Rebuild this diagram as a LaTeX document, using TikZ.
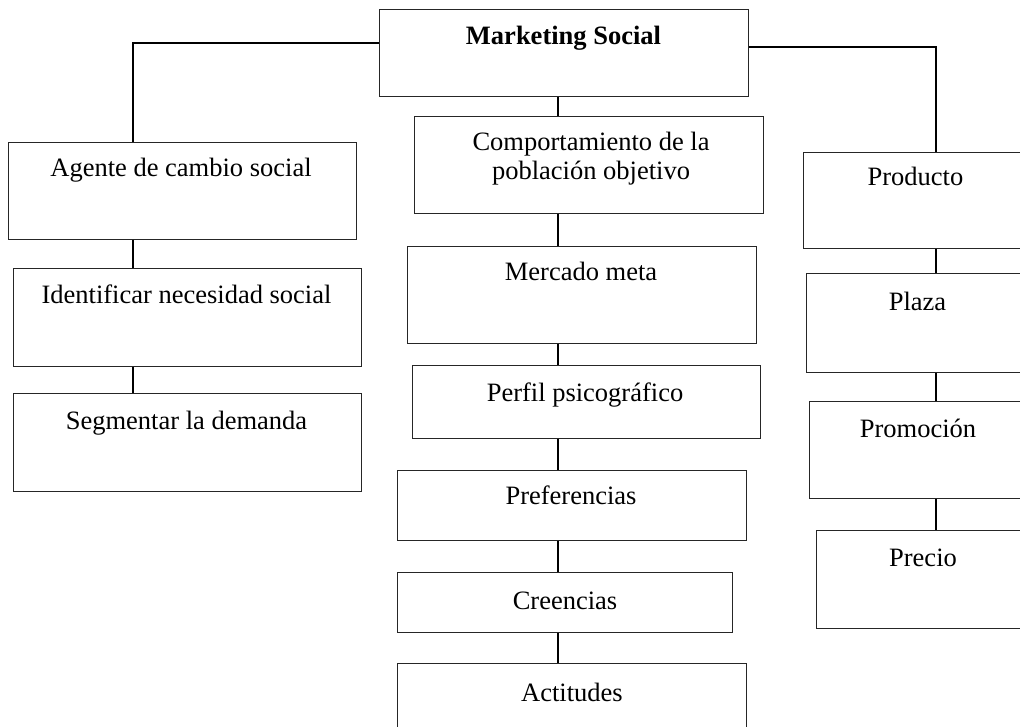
\documentclass[tikz,border=0pt]{standalone}
\usepackage{fontspec}
\setmainfont{Liberation Serif}
\begin{document}
\begin{tikzpicture}[x=1pt,y=-1pt,
  box/.style={draw=black!85, line width=0.9pt, inner sep=0pt, anchor=north west},
  lbl/.style={inner sep=0pt, anchor=base, align=center, font=\fontsize{26.5}{29}\selectfont},
  conn/.style={draw=black, line width=1.6pt}]
\useasboundingbox (0,0) rectangle (1020,727);
\clip (0,0) rectangle (1020,727);

% top box
\node[box, minimum width=369pt, minimum height=87pt] (mkt) at (379,9) {};
\node[lbl, font=\fontsize{26.5}{29}\selectfont\bfseries] (mktT) at (563.5,45) {Marketing Social};

% left column
\node[box, minimum width=348pt, minimum height=97pt] (agente) at (8,142) {};
\node[lbl] (agenteT) at (181,177) {Agente de cambio social};
\node[box, minimum width=348pt, minimum height=98pt] (ident) at (13,268) {};
\node[lbl] (identT) at (186.5,304) {Identificar necesidad social};
\node[box, minimum width=348pt, minimum height=98pt] (segm) at (13,393) {};
\node[lbl] (segmT) at (186.5,429) {Segmentar la demanda};

% middle column (the base anchor of a two-line label sits on its last line)
\node[box, minimum width=349pt, minimum height=97pt] (comp) at (414,116) {};
\node[lbl] (compT) at (591,180) {Comportamiento de la\\población objetivo};
\node[box, minimum width=349pt, minimum height=97pt] (merc) at (407,246) {};
\node[lbl] (mercT) at (581,281) {Mercado meta};
\node[box, minimum width=348pt, minimum height=73pt] (perf) at (412,365) {};
\node[lbl] (perfT) at (585,401) {Perfil psicográfico};
\node[box, minimum width=349pt, minimum height=70pt] (pref) at (397,470) {};
\node[lbl] (prefT) at (571,504) {Preferencias};
\node[box, minimum width=335pt, minimum height=60pt] (cree) at (397,572) {};
\node[lbl] (creeT) at (565,609) {Creencias};
\node[box, minimum width=349pt, minimum height=110pt] (acti) at (397,663) {};
\node[lbl] (actiT) at (572,701) {Actitudes};

% right column
\node[box, minimum width=225pt, minimum height=96pt] (prod) at (803,152) {};
\node[lbl] (prodT) at (915.5,186) {Producto};
\node[box, minimum width=222pt, minimum height=99pt] (plaz) at (806,273) {};
\node[lbl] (plazT) at (917.5,311) {Plaza};
\node[box, minimum width=219pt, minimum height=97pt] (prom) at (809,401) {};
\node[lbl] (promT) at (918,437) {Promoción};
\node[box, minimum width=212pt, minimum height=98pt] (prec) at (816,530) {};
\node[lbl] (precT) at (923,566) {Precio};

% connector guides
\coordinate (jL) at (133,43);
\coordinate (jR) at (936,47);
\coordinate (mid) at (558,0);

% branches from the top box
\draw[conn] (mkt.west |- jL) -- (jL) -- (jL |- agente.north);
\draw[conn] (mkt.east |- jR) -- (jR) -- (jR |- prod.north);
\draw[conn] (mkt.south -| mid) -- (comp.north -| mid);

% left chain
\draw[conn] (agente.south -| jL) -- (ident.north -| jL);
\draw[conn] (ident.south -| jL) -- (segm.north -| jL);

% middle chain
\draw[conn] (comp.south -| mid) -- (merc.north -| mid);
\draw[conn] (merc.south -| mid) -- (perf.north -| mid);
\draw[conn] (perf.south -| mid) -- (pref.north -| mid);
\draw[conn] (pref.south -| mid) -- (cree.north -| mid);
\draw[conn] (cree.south -| mid) -- (acti.north -| mid);

% right chain
\draw[conn] (prod.south -| jR) -- (plaz.north -| jR);
\draw[conn] (plaz.south -| jR) -- (prom.north -| jR);
\draw[conn] (prom.south -| jR) -- (prec.north -| jR);
\end{tikzpicture}
\end{document}
